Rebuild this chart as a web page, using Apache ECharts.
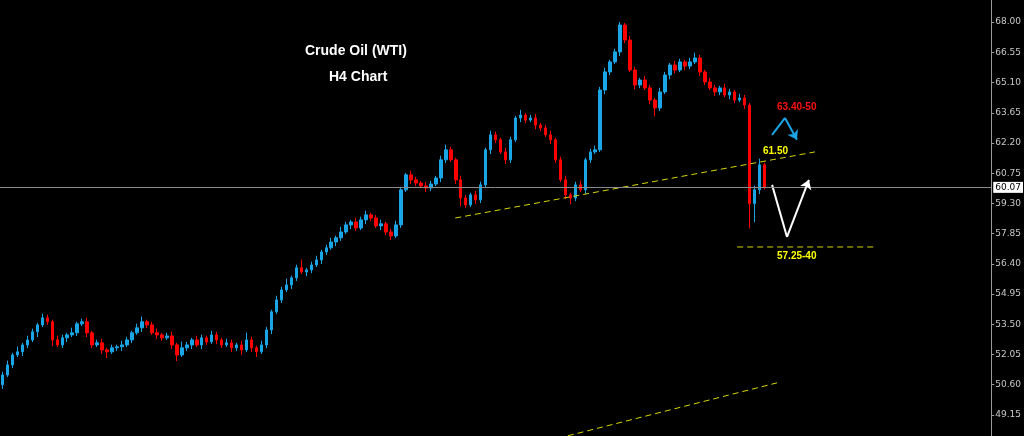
<!DOCTYPE html>
<html>
<head>
<meta charset="utf-8">
<script src="https://cdn.jsdelivr.net/npm/echarts@6/dist/echarts.min.js"></script>
<style>
  html, body { margin: 0; padding: 0; background: #000; }
  #chart { width: 1024px; height: 436px; }
</style>
</head>
<body>
<div id="chart"></div>
<script>
// H4 closes
const closes = [
  51.07, 51.55, 52.03, 52.18, 52.51, 52.75, 53.14, 53.47, 53.81, 53.62,
  52.75, 52.51, 52.85, 52.99, 53.09, 53.52, 53.62, 53.09, 52.51, 52.61,
  52.27, 52.18, 52.37, 52.42, 52.51, 52.75, 53.09, 53.33, 53.62, 53.47,
  53.09, 52.99, 52.85, 52.94, 52.51, 52.03, 52.37, 52.51, 52.75, 52.51,
  52.85, 52.66, 52.99, 52.75, 52.51, 52.61, 52.37, 52.51, 52.27, 52.75,
  52.37, 52.18, 52.51, 53.23, 54.10, 54.67, 55.15, 55.39, 55.73, 56.21,
  56.01, 56.11, 56.35, 56.59, 56.97, 57.17, 57.45, 57.65, 57.93, 58.27,
  58.41, 58.12, 58.51, 58.75, 58.60, 58.22, 58.32, 57.93, 57.74, 58.27,
  59.95, 60.67, 60.43, 60.28, 60.14, 60.04, 60.23, 60.52, 61.39, 61.87,
  61.39, 60.43, 59.56, 59.23, 59.71, 59.47, 60.19, 61.87, 62.59, 62.35,
  61.77, 61.39, 62.35, 63.40, 63.54, 63.30, 63.40, 63.06, 62.92, 62.59,
  62.35, 61.39, 60.43, 59.71, 59.56, 60.19, 59.95, 61.39, 61.77, 61.87,
  64.74, 65.61, 66.09, 66.57, 67.86, 67.14, 65.70, 64.98, 65.22, 64.84,
  64.26, 63.88, 64.65, 65.46, 65.94, 65.70, 66.09, 65.89, 66.09, 66.28,
  65.61, 65.13, 64.84, 64.65, 64.84, 64.50, 64.65, 64.26, 64.36, 64.02,
  59.30, 59.95, 61.15, 60.07
];
const firstOpen = 50.60;
// wick lengths above / below the body
const wickUp = [
  0.15, 0.2, 0.1, 0.25, 0.1, 0.2, 0.15, 0.1, 0.2, 0.15,
  0.1, 0.2, 0.15, 0.1, 0.25, 0.1, 0.15, 0.2, 0.1, 0.15,
  0.2, 0.1, 0.15, 0.1, 0.2, 0.15, 0.1, 0.2, 0.25, 0.1,
  0.15, 0.2, 0.1, 0.15, 0.2, 0.1, 0.3, 0.15, 0.1, 0.2,
  0.15, 0.1, 0.2, 0.15, 0.1, 0.2, 0.15, 0.1, 0.2, 0.35,
  0.15, 0.1, 0.2, 0.15, 0.1, 0.2, 0.15, 0.3, 0.1, 0.15,
  0.4, 0.1, 0.15, 0.2, 0.1, 0.15, 0.2, 0.1, 0.25, 0.15,
  0.1, 0.2, 0.15, 0.2, 0.1, 0.15, 0.2, 0.1, 0.15, 0.2,
  0.15, 0.1, 0.2, 0.15, 0.1, 0.2, 0.15, 0.1, 0.2, 0.25,
  0.15, 0.1, 0.2, 0.15, 0.1, 0.2, 0.15, 0.1, 0.2, 0.15,
  0.1, 0.2, 0.15, 0.1, 0.25, 0.1, 0.15, 0.2, 0.1, 0.15,
  0.2, 0.1, 0.15, 0.2, 0.1, 0.15, 0.2, 0.1, 0.15, 0.2,
  0.15, 0.2, 0.1, 0.15, 0.14, 0.1, 0.2, 0.15, 0.1, 0.2,
  0.15, 0.1, 0.2, 0.15, 0.1, 0.2, 0.15, 0.1, 0.2, 0.25,
  0.15, 0.1, 0.2, 0.15, 0.1, 0.2, 0.15, 0.1, 0.2, 0.15,
  0.1, 0.2, 0.3, 0.1
];
const wickDn = [
  0.2, 0.1, 0.15, 0.1, 0.2, 0.15, 0.1, 0.25, 0.1, 0.15,
  0.3, 0.1, 0.15, 0.2, 0.1, 0.15, 0.1, 0.2, 0.15, 0.1,
  0.2, 0.3, 0.1, 0.15, 0.2, 0.1, 0.15, 0.1, 0.2, 0.15,
  0.1, 0.2, 0.15, 0.1, 0.2, 0.3, 0.1, 0.15, 0.2, 0.1,
  0.2, 0.15, 0.1, 0.2, 0.15, 0.1, 0.2, 0.15, 0.25, 0.1,
  0.2, 0.25, 0.1, 0.15, 0.2, 0.1, 0.15, 0.1, 0.2, 0.15,
  0.1, 0.2, 0.15, 0.1, 0.2, 0.15, 0.1, 0.2, 0.15, 0.1,
  0.2, 0.15, 0.1, 0.2, 0.15, 0.1, 0.2, 0.15, 0.2, 0.1,
  0.15, 0.1, 0.2, 0.15, 0.1, 0.2, 0.15, 0.1, 0.2, 0.15,
  0.1, 0.2, 0.4, 0.15, 0.1, 0.2, 0.15, 0.1, 0.2, 0.15,
  0.1, 0.2, 0.15, 0.1, 0.2, 0.15, 0.1, 0.2, 0.15, 0.1,
  0.2, 0.15, 0.1, 0.2, 0.3, 0.15, 0.1, 0.2, 0.15, 0.1,
  0.1, 0.2, 0.15, 0.1, 0.2, 0.15, 0.1, 0.2, 0.15, 0.1,
  0.2, 0.4, 0.15, 0.1, 0.2, 0.15, 0.1, 0.2, 0.15, 0.1,
  0.2, 0.15, 0.1, 0.2, 0.15, 0.1, 0.2, 0.15, 0.1, 0.2,
  1.2, 0.9, 0.2, 0.1
];
const slotCount = 199;            // candles + empty space to the right
const priceTicks = [49.15, 50.60, 52.05, 53.50, 54.95, 56.40, 57.85, 59.30, 60.75, 62.20, 63.65, 65.10, 66.55, 68.00];
const lastPrice = 60.07;

// annotation lines (slot index, price)
const upperTrend = [[90.9, 58.60], [163.1, 61.77]];
const lowerTrend = [[113.5, 48.15], [155.5, 50.69]];
const supportLine = [[147.5, 57.21], [175.5, 57.21]];
const blueArrow = [[154.5, 62.59], [157.1, 63.40], [159.5, 62.35]];
const whiteArrow = [[154.5, 60.19], [157.5, 57.69], [161.9, 60.43]];

const slots = [];
for (let i = 0; i < slotCount; i++) slots.push(String(i));

const candles = closes.map(function (c, i) {
  const o = i === 0 ? firstOpen : closes[i - 1];
  return [o, c, Math.min(o, c) - wickDn[i], Math.max(o, c) + wickUp[i]];
});

function arrowSeries(points, color) {
  const n = points.length;
  return {
    type: 'line', xAxisIndex: 1, yAxisIndex: 0,
    data: points.slice(0, n - 1), showSymbol: false, silent: true,
    lineStyle: { color: color, width: 2 },
    markLine: {
      silent: true, symbol: ['none', 'arrow'], symbolSize: 9,
      lineStyle: { color: color, width: 2, type: 'solid' }, label: { show: false },
      data: [[{ coord: points[n - 2] }, { coord: points[n - 1] }]]
    }
  };
}

function dashed(points, width) {
  return {
    type: 'line', xAxisIndex: 1, yAxisIndex: 0, data: points,
    showSymbol: false, silent: true,
    lineStyle: { color: '#d6d600', width: width, type: [6, 4] }
  };
}

const chart = echarts.init(document.getElementById('chart'));
chart.setOption({
  backgroundColor: '#000',
  animation: false,
  grid: { left: 0, right: 29, top: 0, bottom: 0 },
  xAxis: [
    { type: 'category', data: slots, show: false, boundaryGap: true },
    { type: 'value', min: -0.5, max: slotCount - 0.5, show: false }
  ],
  yAxis: {
    type: 'value', position: 'right', min: 48.14, max: 69.06, scale: true,
    axisLine: { show: true, onZero: false, lineStyle: { color: '#9a9a9a' } },
    axisTick: { show: true, length: 3, customValues: priceTicks, lineStyle: { color: '#9a9a9a' } },
    axisLabel: {
      customValues: priceTicks, color: '#c8c8c8', fontSize: 9, margin: 4,
      fontFamily: 'DejaVu Sans',
      formatter: function (v) { return v.toFixed(2); }
    },
    splitLine: { show: false }
  },
  series: [
    {
      type: 'candlestick', data: candles, barWidth: 3,
      itemStyle: {
        color: '#1aa6e6', color0: '#ff0000',
        borderColor: '#1aa6e6', borderColor0: '#ff0000', borderWidth: 1
      },
      markLine: {
        silent: true, symbol: 'none',
        lineStyle: { color: '#8a8a8a', width: 1, type: 'solid' },
        label: {
          position: 'end', formatter: lastPrice.toFixed(2), distance: 2,
          backgroundColor: '#fff', color: '#000', fontSize: 9, padding: [1, 2],
          fontFamily: 'DejaVu Sans'
        },
        data: [{ yAxis: lastPrice }]
      }
    },
    dashed(upperTrend, 1),
    dashed(lowerTrend, 1),
    dashed(supportLine, 1),
    arrowSeries(blueArrow, '#1aa6e6'),
    arrowSeries(whiteArrow, '#ffffff')
  ],
  graphic: [
    { type: 'text', left: 305, top: 44, style: { text: 'Crude Oil (WTI)', fill: '#fff', font: 'bold 14px Arial, Liberation Sans' } },
    { type: 'text', left: 329, top: 70, style: { text: 'H4 Chart', fill: '#fff', font: 'bold 14px Arial, Liberation Sans' } },
    { type: 'text', left: 777, top: 102, style: { text: '63.40-50', fill: '#ff1010', font: 'bold 10px Arial, Liberation Sans' } },
    { type: 'text', left: 763, top: 146, style: { text: '61.50', fill: '#ffff00', font: 'bold 10px Arial, Liberation Sans' } },
    { type: 'text', left: 777, top: 251, style: { text: '57.25-40', fill: '#ffff00', font: 'bold 10px Arial, Liberation Sans' } }
  ]
});
</script>
</body>
</html>
